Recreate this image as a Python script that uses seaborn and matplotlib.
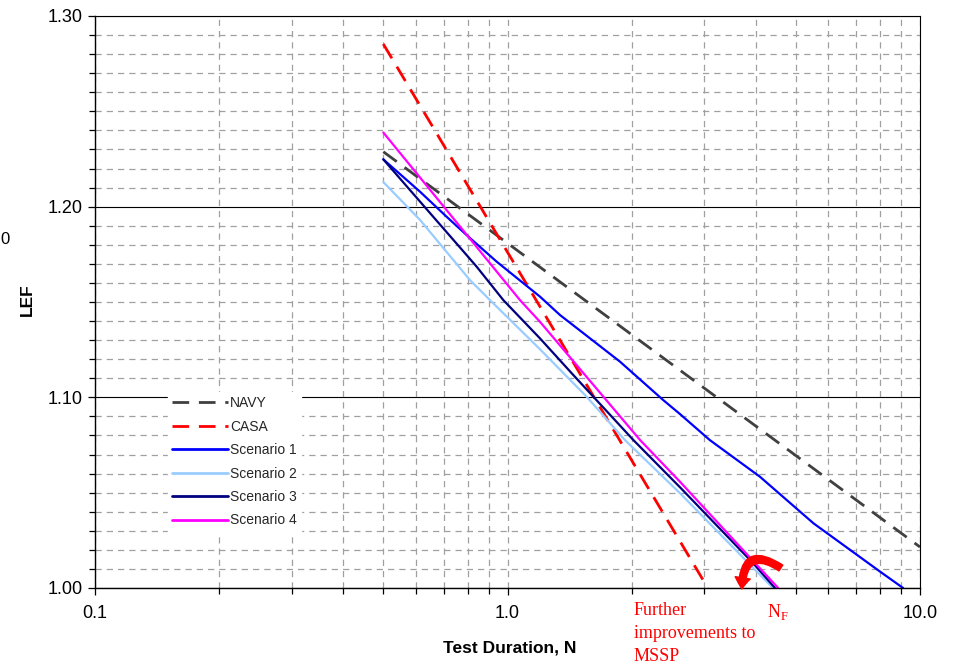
import numpy as np
import pandas as pd
import matplotlib
matplotlib.use("Agg")
import matplotlib.pyplot as plt
from matplotlib.patches import FancyArrowPatch
from matplotlib.ticker import FixedLocator, NullFormatter, FixedFormatter
import seaborn as sns

# ---- data ----
n_navy = [0.5, 10.0]
lef_navy = [1.2288, 1.0215]

n_casa = [0.5, 3.06]
lef_casa = [1.2853, 1.000]

n_s1 = [0.5, 0.614, 0.712, 0.796, 0.942, 1.199, 1.34, 1.874, 2.384, 2.62, 3.093, 4.09, 5.52, 8.0, 9.1]
lef_s1 = [1.2248, 1.2078, 1.1947, 1.1851, 1.1711, 1.1528, 1.1432, 1.1187, 1.0986, 1.0912, 1.0776, 1.0584, 1.0339, 1.0086, 1.000]

n_s2 = [0.5, 0.614, 0.811, 0.907, 1.199, 1.556, 1.926, 2.62, 4.40]
lef_s2 = [1.2129, 1.193, 1.1615, 1.151, 1.1252, 1.1003, 1.0776, 1.0497, 1.000]

n_s3 = [0.5, 0.614, 0.796, 0.842, 0.977, 1.199, 1.444, 2.019, 2.62, 3.94, 4.45]
lef_s3 = [1.2248, 1.2026, 1.1746, 1.1685, 1.151, 1.1309, 1.1117, 1.0776, 1.0528, 1.013, 1.000]

n_s4 = [0.5, 1.072, 1.199, 2.096, 2.62, 4.53]
lef_s4 = [1.2389, 1.151, 1.1396, 1.0776, 1.0557, 1.000]

series_names = ["NAVY", "CASA", "Scenario 1", "Scenario 2", "Scenario 3", "Scenario 4"]
x_ticks = [0.1, 1.0, 10.0]
x_tick_labels = ["0.1", "1.0", "10.0"]
y_ticks = [1.00, 1.10, 1.20, 1.30]
y_tick_labels = ["1.00", "1.10", "1.20", "1.30"]

# ---- styling ----
sns.set_theme(style="white")
plt.rcParams["font.family"] = ["Liberation Sans", "DejaVu Sans"]

fig = plt.figure(figsize=(9.6, 6.68), dpi=100)
ax = fig.add_axes([95/960, 1-588/668, (920-95)/960, (588-16)/668])

styles = [
    dict(color="#404040", lw=2.0, dashes=(6, 3.5)),
    dict(color="#ff0000", lw=2.0, dashes=(6, 3.5)),
    dict(color="#0000ff", lw=1.6),
    dict(color="#99ccff", lw=1.6),
    dict(color="#000080", lw=1.6),
    dict(color="#ff00ff", lw=1.6),
]
data = [(n_navy, lef_navy), (n_casa, lef_casa), (n_s1, lef_s1),
        (n_s2, lef_s2), (n_s3, lef_s3), (n_s4, lef_s4)]

for name, (xs, ys), st in zip(series_names, data, styles):
    df = pd.DataFrame({"N": xs, "LEF": ys})
    sns.lineplot(data=df, x="N", y="LEF", ax=ax, sort=False, estimator=None,
                 label=name, color=st["color"], linewidth=st["lw"])
    ln = ax.get_lines()[-1]
    if "dashes" in st:
        ln.set_dashes(st["dashes"])

ax.set_xscale("log")
ax.set_xlim(0.1, 10.0)
ax.set_ylim(1.0, 1.30)

ax.xaxis.set_major_locator(FixedLocator(x_ticks))
ax.xaxis.set_major_formatter(FixedFormatter(x_tick_labels))
minor_x = [m * d for d in (0.1, 1.0) for m in range(2, 10)]
ax.xaxis.set_minor_locator(FixedLocator(minor_x))
ax.xaxis.set_minor_formatter(NullFormatter())

ax.yaxis.set_major_locator(FixedLocator(y_ticks))
ax.yaxis.set_major_formatter(FixedFormatter(y_tick_labels))
ax.yaxis.set_minor_locator(FixedLocator(np.round(np.arange(1.0, 1.3001, 0.01), 2)))

# grids
ax.grid(False)
ax.grid(True, which="minor", axis="both", color="#a0a0a0", linestyle=(0, (5, 4)), linewidth=0.9)
ax.grid(True, which="major", axis="x", color="#a0a0a0", linestyle=(0, (5, 4)), linewidth=0.9)
ax.grid(True, which="major", axis="y", color="#000000", linestyle="-", linewidth=0.8)
ax.set_axisbelow(True)

for s in ["left", "bottom", "top", "right"]:
    ax.spines[s].set_visible(True)
    ax.spines[s].set_color("black")
    ax.spines[s].set_linewidth(1.0)
ax.spines["top"].set_linewidth(0.8)
ax.spines["right"].set_linewidth(0.8)

ax.tick_params(axis="both", which="both", direction="out", color="black",
               bottom=True, left=True, top=False, right=False)
ax.tick_params(axis="both", which="major", length=5, width=0.9, labelsize=13, colors="black")
ax.tick_params(axis="both", which="minor", length=4, width=0.9)
ax.tick_params(axis="x", which="major", pad=7)
ax.tick_params(axis="y", which="major", pad=4)

ax.set_xlabel("Test Duration, N", fontsize=12.5, fontweight="bold", color="black")
ax.set_ylabel("LEF", fontsize=12.5, fontweight="bold", color="black")
ax.xaxis.set_label_coords(0.503, -0.105)
ax.xaxis.label.set_va("center")
ax.yaxis.set_label_coords((27-95)/825, (588-300)/572)
ax.yaxis.label.set_va("center")

leg = ax.legend(loc="upper left", bbox_to_anchor=((168-95)/825, (588-392)/572),
                frameon=True, fontsize=10, handlelength=4.0, handletextpad=0.15,
                labelspacing=0.68, borderpad=0.3, borderaxespad=0.0)
leg.get_frame().set_facecolor("white")
leg.get_frame().set_edgecolor("white")
leg.get_frame().set_alpha(1.0)
leg.get_frame().set_boxstyle("square", pad=0.0)
for h in leg.get_lines():
    h.set_linewidth(2.0)

# annotations
serif = ["Liberation Serif", "DejaVu Serif"]
fig.text(634/960, 1-602/668, "Further\nimprovements to\nMSSP", color="#ff0000",
         fontsize=13, family=serif, va="top", ha="left", linespacing=1.45)
fig.text(767/960, 1-602/668, r"N$_\mathregular{F}$", color="#ff0000",
         fontsize=13, family=serif, va="top", ha="left")
fig.text(0.0, 1-240/668, "0", fontsize=12, va="center", ha="left", color="black")

arrow = FancyArrowPatch(posA=(4.6, 1.0105), posB=(3.70, 0.9995),
                        connectionstyle="arc3,rad=0.9",
                        arrowstyle="simple,head_width=11,head_length=8,tail_width=5",
                        color="#ff0000", clip_on=False, zorder=10,
                        shrinkA=0, shrinkB=0)
ax.add_patch(arrow)

fig.savefig("out.png", dpi=100)
